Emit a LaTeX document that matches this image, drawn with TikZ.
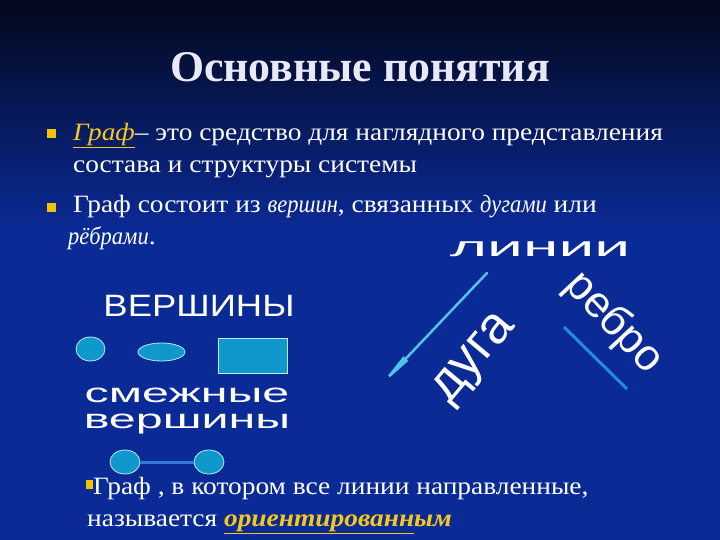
\documentclass[tikz,border=0pt]{standalone}
\usepackage{fontspec}
\setmainfont{Liberation Serif}
\newfontfamily\wafont{Liberation Sans}
\usetikzlibrary{arrows.meta}
\usetikzlibrary{shapes.geometric}
\definecolor{bgtop}{RGB}{3,8,28}
\definecolor{bgmain}{RGB}{10,42,150}
\definecolor{bulletyel}{RGB}{240,196,0}
\definecolor{grafyel}{RGB}{245,200,30}
\definecolor{vfill}{RGB}{14,152,204}
\definecolor{vline}{RGB}{190,235,250}
\definecolor{arccol}{RGB}{80,195,235}
\definecolor{rebcol}{RGB}{30,140,225}
\definecolor{linkcol}{RGB}{55,120,215}
\definecolor{titlecol}{RGB}{232,232,246}
\newcommand{\scrword}[1]{\scalebox{0.82}[1]{\textit{#1}}}

\tikzset{
  bodytext/.style={anchor=base west,inner sep=0,text=white,xscale=1.1,font=\fontsize{25}{29}\selectfont},
  bulletsq/.style={rectangle,fill=bulletyel,inner sep=0,minimum width=9bp,minimum height=9bp},
  wordart/.style={anchor=base,text=white,inner sep=0,font=\wafont\fontsize{#1}{#1}\selectfont},
  vertex/.style={fill=vfill,draw=vline,line width=0.8bp,inner sep=0},
}

\begin{document}
\begin{tikzpicture}[x=1bp,y=-1bp]
\fill[bgmain] (0,0) rectangle (720,540);
\shade[top color=bgtop,bottom color=bgmain] (0,0) rectangle (720,230);
\useasboundingbox (0,0) rectangle (720,540);

\draw (360,82) node[anchor=base,text=titlecol,font=\bfseries\fontsize{44}{48}\selectfont] (title) {Основные понятия};

\draw (51,134) node[bulletsq] (b1) {};
\draw (73,141) node[bodytext] (l1a) {\textcolor{grafyel}{\underline{\textit{Граф}}}– это средство для наглядного представления};
\draw (73,173) node[bodytext] (l1b) {состава и структуры системы};
\draw (51,208) node[bulletsq] (b2) {};
\draw (73,213) node[bodytext] (l2a) {Граф состоит из \scrword{вершин}, связанных \scrword{дугами} или};
\draw (68,245) node[bodytext] (l2b) {\scrword{рёбрами}.};

\draw (540,257) node[wordart=28,xscale=2.3] (lines) {линии};
\draw (199,316) node[wordart=31,xscale=1.18] (verts) {ВЕРШИНЫ};
\draw (187,402) node[wordart=27,xscale=1.8] (adj1) {смежные};
\draw (187,428) node[wordart=27,xscale=1.8] (adj2) {вершины};

\draw (90.5,349) node[vertex,ellipse,minimum width=29bp,minimum height=24bp] (vcirc) {};
\draw (161.5,352) node[vertex,ellipse,minimum width=47bp,minimum height=18bp] (voval) {};
\draw (252.5,355.5) node[vertex,rectangle,minimum width=69bp,minimum height=35bp] (vrect) {};

\coordinate (arcfrom) at (487,273);
\coordinate (arcto) at (377,389);
\draw[arccol,line width=2.5bp,line cap=round,-{Triangle[length=42bp,width=6bp]}] (arcfrom) -- (arcto);
\draw (476,360) node[wordart=52,anchor=center,rotate=50] (arclbl) {дуга};

\coordinate (edgefrom) at (564,327);
\coordinate (edgeto) at (627,389);
\draw[rebcol,line width=3bp] (edgefrom) -- (edgeto);
\draw (614,323) node[wordart=44,anchor=center,rotate=-47] (edgelbl) {ребро};

\draw (125,462) node[vertex,ellipse,minimum width=30bp,minimum height=24bp] (ua) {};
\draw (209,462) node[vertex,ellipse,minimum width=30bp,minimum height=24bp] (ub) {};
\draw[linkcol,line width=3bp] (ua) -- (ub);

\draw (89,484) node[bulletsq,minimum width=7bp,minimum height=9bp] (b3) {};
\draw (93,494) node[bodytext] (l3a) {Граф , в котором все линии направленные,};
\draw (87,526) node[bodytext] (l3b) {называется \textcolor{grafyel}{\textbf{\textit{\underline{ориентированн}ым}}}};
\end{tikzpicture}
\end{document}
